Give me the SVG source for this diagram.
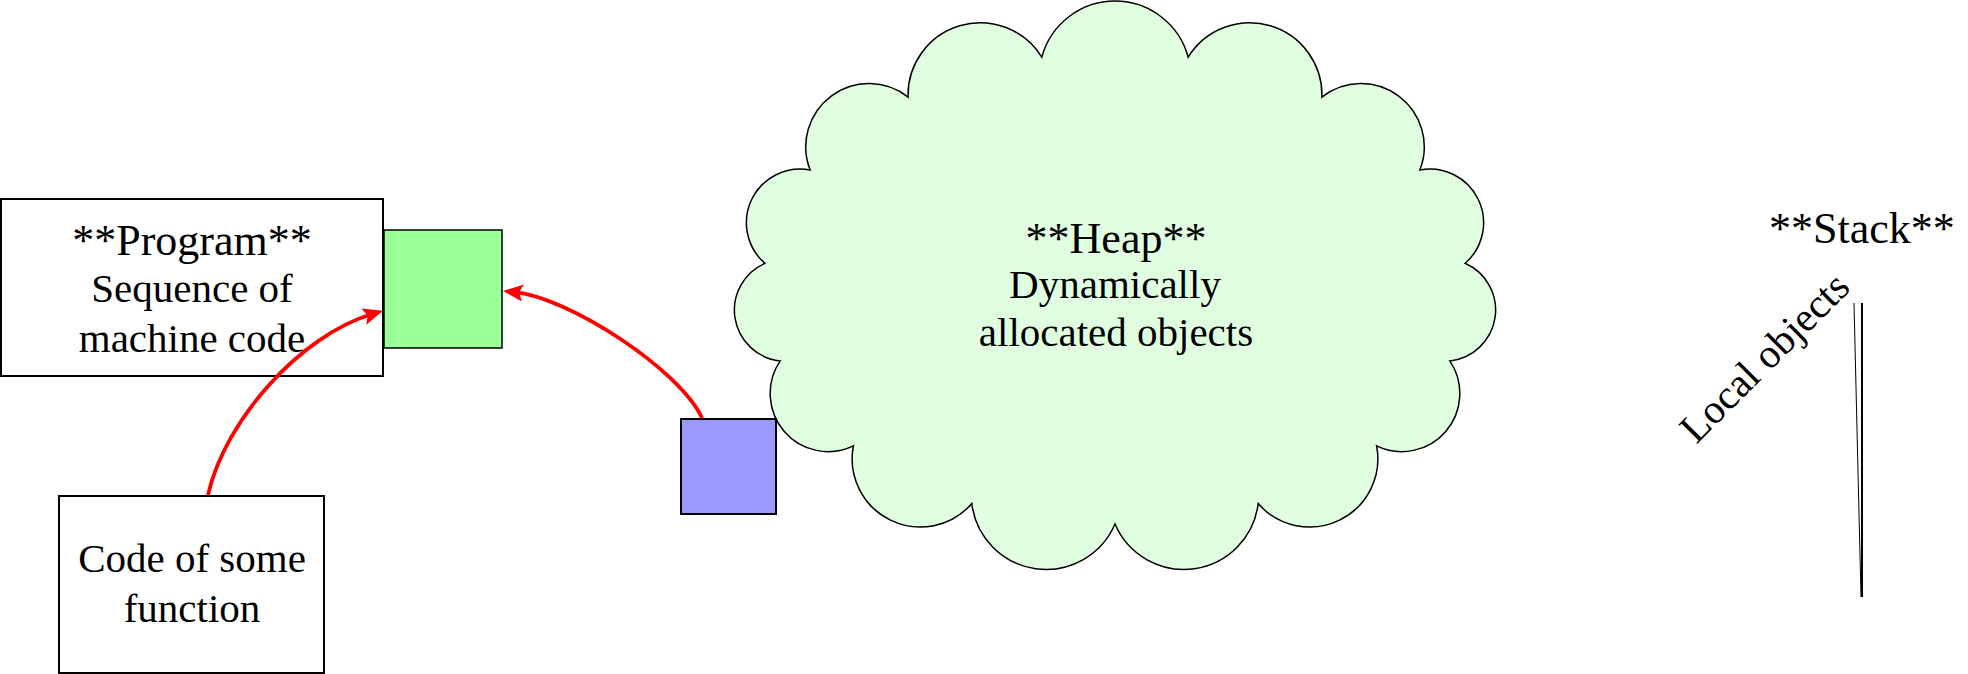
<svg xmlns="http://www.w3.org/2000/svg" width="1968" height="674" viewBox="0 0 1968 674">
  <style>
    text { font-family: "Liberation Serif", "DejaVu Serif", "Times New Roman", serif; fill: #000; text-anchor: middle; }
    .title { font-size: 44px; }
    .body { font-size: 41px; }
    .box { fill: #fff; stroke: #000; stroke-width: 2; }
    .arrow { fill: none; stroke: #ff0000; stroke-width: 3.8; marker-end: url(#ah); }
  </style>
  <defs>
    <marker id="ah" markerUnits="userSpaceOnUse" markerWidth="22" markerHeight="18" refX="8" refY="8.5" orient="auto">
      <path d="M0,0 L20,8.5 L0,17 L4,8.5 z" fill="#ff0000"/>
    </marker>
  </defs>
  <rect width="1968" height="674" fill="#fff"/>

  <g id="heap">
    <path fill="#e0ffe0" stroke="#000" stroke-width="1.5" d="M1041.8,57.2
      A75.8,75.8 0 0 1 1188.2,57.2
      A72.2,72.2 0 0 1 1321.9,97.1
      A63.2,63.2 0 0 1 1419.8,170.0
      A53.7,53.7 0 0 1 1465.1,263.3
      A51.1,51.1 0 0 1 1449.8,360.9
      A58.1,58.1 0 0 1 1376.6,445.9
      A68.2,68.2 0 0 1 1258.2,503.6
      A74.9,74.9 0 0 1 1115.0,524.0
      A74.9,74.9 0 0 1 971.8,503.6
      A68.2,68.2 0 0 1 853.4,445.9
      A58.1,58.1 0 0 1 780.2,360.9
      A51.1,51.1 0 0 1 764.9,263.3
      A53.7,53.7 0 0 1 810.2,170.0
      A63.2,63.2 0 0 1 908.1,97.1
      A72.2,72.2 0 0 1 1041.8,57.2 Z"/>
    <text class="title" x="1116" y="253">**Heap**</text>
    <text class="body" x="1115" y="298">Dynamically</text>
    <text class="body" x="1116" y="346">allocated objects</text>
  </g>

  <g id="program">
    <rect class="box" x="1" y="199" width="382" height="177"/>
    <text class="title" x="192" y="255">**Program**</text>
    <text class="body" x="192" y="302">Sequence of</text>
    <text class="body" x="192" y="352">machine code</text>
  </g>

  <g id="code">
    <rect class="box" x="59" y="496" width="265" height="177"/>
    <text class="body" x="192" y="572">Code of some</text>
    <text class="body" x="192" y="622">function</text>
  </g>

  <g id="code-block">
    <rect x="384" y="230" width="118" height="118" fill="#99ff99" stroke="#000" stroke-width="1.5"/>
  </g>

  <g id="heap-object">
    <rect x="681" y="419" width="95" height="95" fill="#9999ff" stroke="#000" stroke-width="2"/>
  </g>

  <g id="stack">
    <text class="title" x="1862" y="243">**Stack**</text>
    <text class="body" transform="translate(1774,367) rotate(-45)" x="0" y="0">Local objects</text>
    <line x1="1862" y1="303" x2="1862" y2="597" stroke="#000" stroke-width="2"/>
    <line x1="1854" y1="303" x2="1861" y2="597" stroke="#000" stroke-width="1"/>
  </g>

  <g id="connectors">
    <path class="arrow" d="M208,495 C225,420 300,336 371.5,314.3"/>
    <path class="arrow" d="M702,418 C680,370 570,298 515,292.2"/>
  </g>
</svg>
